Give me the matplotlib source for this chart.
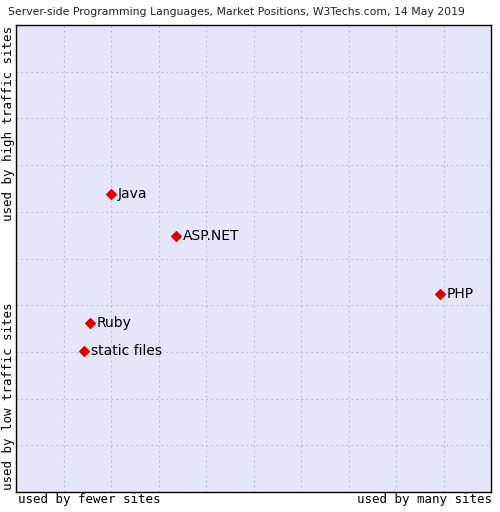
import matplotlib.pyplot as plt

languages = ['Java', 'ASP.NET', 'PHP', 'Ruby', 'static files']
site_share = [20.0, 33.7, 89.3, 15.6, 14.3]
traffic_pos = [63.8, 54.8, 42.4, 36.2, 30.2]

fig = plt.figure(figsize=(5, 5.12), dpi=100)
ax = fig.add_axes([16 / 500, 1 - 492 / 512, 475 / 500, 467 / 512])
ax.set_facecolor('#e6e6fa')
ax.set_xlim(0, 100)
ax.set_ylim(0, 100)
ax.set_xticks(range(10, 100, 10))
ax.set_yticks(range(10, 100, 10))
ax.tick_params(length=0, labelbottom=False, labelleft=False)
ax.grid(True, color='#b8b8c8', linestyle=(0, (1.5, 3)), linewidth=0.8)
for s in ax.spines.values():
    s.set_color('black')
    s.set_linewidth(1)

ax.scatter(site_share, traffic_pos, marker='D', s=24, color='#dd0000', zorder=3)
for name, x, y in zip(languages, site_share, traffic_pos):
    ax.annotate(name, (x, y), xytext=(5, 0), textcoords='offset points',
                va='center', fontsize=10, fontfamily='DejaVu Sans')

mono = 'DejaVu Sans Mono'
fig.text(8 / 500, 1 - 12 / 512, 'Server-side Programming Languages, Market Positions, W3Techs.com, 14 May 2019',
         fontsize=7.8, family='DejaVu Sans', va='center', color='#222222')
fig.text(18 / 500, 1 - 500 / 512, 'used by fewer sites', fontsize=9, family=mono, va='center')
fig.text(492 / 500, 1 - 500 / 512, 'used by many sites', fontsize=9, family=mono, va='center', ha='right')
fig.text(9 / 500, 1 - 26 / 512, 'used by high traffic sites', fontsize=9, family=mono,
         rotation=90, ha='center', va='top')
fig.text(9 / 500, 1 - 490 / 512, 'used by low traffic sites', fontsize=9, family=mono,
         rotation=90, ha='center', va='bottom')

fig.savefig('out.png', dpi=100)
